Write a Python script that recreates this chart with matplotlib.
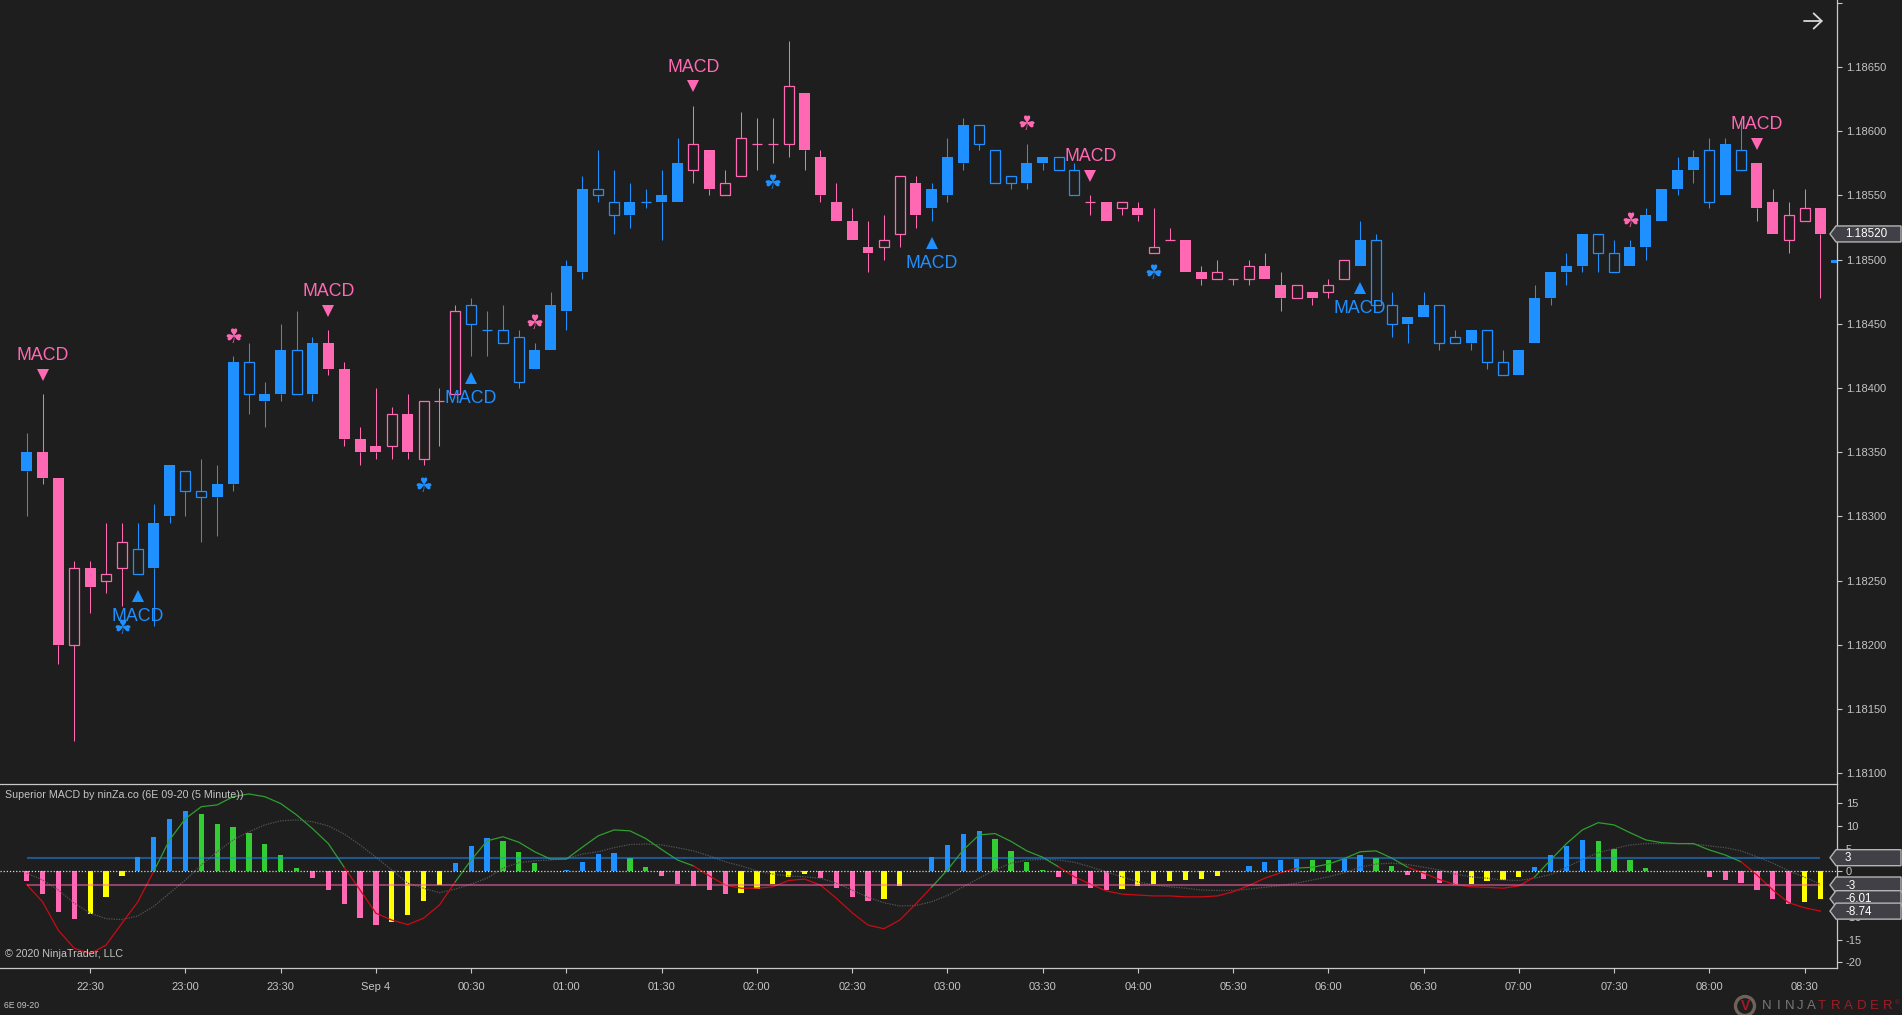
import numpy as np
import matplotlib
matplotlib.use('Agg')
import matplotlib.pyplot as plt
from matplotlib.patches import Polygon, Ellipse
from matplotlib.transforms import IdentityTransform

W, H = 1902, 1015
BG = '#1e1e1e'
BLUE = '#1e90ff'
PINK = '#ff69b4'
AXIS = '#c8c8c8'
TEXT = '#c4c4c4'

plt.rcParams['font.family'] = ['Liberation Sans', 'DejaVu Sans']

# candles, prices are 1.18000 + n * 0.00001
body_top = [350, 350, 330, 260, 260, 255, 280, 275, 295, 340,
            335, 320, 325, 420, 420, 395, 430, 430, 435, 435,
            415, 360, 355, 380, 380, 390, 390, 460, 465, 445,
            445, 440, 430, 465, 495, 555, 555, 545, 545, 545,
            550, 575, 590, 585, 560, 595, 590, 590, 635, 630,
            580, 545, 530, 510, 515, 565, 560, 555, 580, 605,
            605, 585, 565, 575, 580, 580, 570, 545, 545, 545,
            540, 510, 515, 515, 490, 490, 485, 495, 495, 480,
            480, 475, 480, 500, 515, 515, 465, 455, 465, 465,
            440, 445, 445, 420, 430, 470, 490, 495, 520, 520,
            505, 510, 535, 555, 570, 580, 585, 590, 585, 575,
            545, 535, 540, 540, 500]
body_bot = [335, 330, 200, 200, 245, 250, 260, 255, 260, 300,
            320, 315, 315, 325, 395, 390, 395, 395, 395, 415,
            360, 350, 350, 355, 350, 345, 390, 395, 450, 445,
            435, 405, 415, 430, 460, 490, 550, 535, 535, 545,
            545, 545, 570, 555, 550, 565, 590, 590, 590, 585,
            550, 530, 515, 505, 510, 520, 535, 540, 550, 575,
            590, 560, 560, 560, 575, 570, 550, 545, 530, 540,
            535, 505, 515, 490, 485, 485, 485, 485, 485, 470,
            470, 470, 475, 485, 495, 465, 450, 450, 455, 435,
            435, 435, 420, 410, 410, 435, 470, 490, 495, 505,
            490, 495, 510, 530, 555, 570, 545, 550, 570, 540,
            520, 515, 530, 520, 497]
wick_high = [365, 395, 330, 265, 265, 295, 295, 295, 310, 340,
             335, 345, 340, 425, 435, 405, 450, 460, 440, 445,
             420, 370, 400, 385, 395, 390, 400, 465, 470, 460,
             465, 445, 435, 475, 500, 565, 585, 570, 560, 555,
             570, 595, 620, 585, 570, 615, 610, 610, 670, 630,
             585, 560, 540, 530, 535, 565, 565, 560, 595, 610,
             605, 585, 565, 590, 580, 580, 575, 550, 545, 545,
             545, 540, 525, 515, 495, 500, 485, 500, 505, 490,
             480, 475, 485, 500, 530, 520, 475, 455, 475, 465,
             445, 445, 445, 430, 430, 480, 490, 505, 520, 520,
             515, 515, 540, 555, 580, 585, 595, 595, 610, 575,
             555, 545, 555, 540, 500]
wick_low = [300, 325, 185, 125, 225, 240, 230, 255, 215, 295,
            300, 280, 285, 320, 380, 370, 390, 395, 390, 410,
            355, 340, 345, 345, 345, 340, 355, 395, 425, 425,
            435, 400, 415, 430, 445, 485, 545, 520, 525, 540,
            515, 545, 560, 550, 550, 565, 570, 575, 580, 570,
            545, 530, 515, 490, 500, 510, 525, 530, 545, 570,
            585, 560, 555, 555, 570, 570, 550, 535, 530, 535,
            530, 505, 515, 490, 480, 485, 480, 480, 485, 460,
            470, 465, 470, 485, 495, 465, 440, 435, 455, 430,
            435, 430, 415, 410, 410, 435, 465, 480, 490, 490,
            490, 495, 500, 530, 550, 560, 540, 550, 570, 530,
            520, 505, 530, 470, 497]
candle_color = ('BPPPPPPBBB' 'BBBBBBBBBP' 'PPPPPPPPBB' 'BBBBBBBBBB' 'BBPPPPPPPP'
                'PPPPPPPBBB' 'BBBBBBBPPP' 'PPPPPPPPPP' 'PPPPBBBBBB' 'BBBBBBBBBB'
                'BBBBBBBBBP' 'PPPPB')
candle_fill = ('FFFHFHHHFF' 'HHFFHFFHFF' 'FFFHFHHHHH' 'HHFFFFHHFH' 'FFHFHHHHHF'
               'FFFFHHFFFF' 'HHHFFHHHFH' 'FHHFFHHHFF' 'HFHHFHHFFH' 'HFHHFFFFFH'
               'HFFFFFHFHF' 'FHHFF')

# x labels every 6 bars, first one at bar 4
time_labels = ['22:30', '23:00', '23:30', 'Sep 4', '00:30', '01:00', '01:30',
               '02:00', '02:30', '03:00', '03:30', '04:00', '05:30', '06:00',
               '06:30', '07:00', '07:30', '08:00', '08:30']
price_ticks = [1.181, 1.1815, 1.182, 1.1825, 1.183, 1.1835, 1.184, 1.1845,
               1.185, 1.1855, 1.186, 1.1865, 1.187]
macd_ticks = [15, 10, 5, 0, -5, -10, -15, -20]

# signals: bar, price
down_arrows = [(1, 410), (19, 460), (42, 635), (67, 565), (109, 590)]
down_labels = [(1, 425), (19, 475), (42, 650), (67, 580), (109, 605)]
up_arrows = [(7, 238), (28, 408), (57, 513), (84, 478)]
up_labels = [(7, 222), (28, 392), (57, 497), (84, 462)]
blue_clovers = [(6, 213), (25, 323), (47, 559), (71, 489)]
pink_clovers = [(13, 439), (32, 450), (63, 605), (101, 530)]

hist_vals = [-2.1, -5.0, -8.9, -10.5, -9.4, -5.6, -1.0, 3.1, 7.5, 11.5,
             13.2, 12.6, 10.4, 9.7, 8.4, 6.0, 3.6, 0.7, -1.5, -4.1,
             -7.2, -10.2, -11.8, -11.1, -9.6, -6.5, -3.0, 1.8, 5.6, 7.3,
             6.7, 4.2, 1.8, 0.1, 0.3, 2.0, 3.8, 4.0, 2.9, 1.0,
             -1.0, -2.8, -3.2, -4.1, -5.0, -4.8, -3.9, -2.8, -1.2, -0.6,
             -1.5, -3.7, -5.6, -6.5, -6.1, -3.2, 0.1, 3.1, 5.8, 8.2,
             8.8, 7.1, 4.5, 2.0, 0.3, -1.2, -2.8, -3.7, -4.1, -3.9,
             -3.2, -2.8, -2.1, -1.9, -1.7, -1.0, 0.0, 1.2, 2.0, 2.5,
             2.7, 2.5, 2.5, 2.7, 3.6, 2.9, 1.2, -0.8, -1.7, -2.6,
             -3.0, -2.8, -2.1, -1.9, -1.2, 1.0, 3.6, 5.6, 6.9, 6.7,
             4.9, 2.5, 0.7, 0.1, 0.0, 0.0, -1.2, -1.9, -2.6, -4.1,
             -6.1, -7.2, -6.7, -6.01]
hist_color = ('PPPPYYYBBB' 'BGGGGGGGPP' 'PPPYYYYBBB' 'GGGGBBBBGG' 'PPPPPYYYYY'
              'PPPPYYBBBB' 'BGGGGPPPPY' 'YYYYYYPBBB' 'BGGBBGGPPP' 'PYYYYBBBBG'
              'GGGGPPPPPP' 'PPYY')
macd_line = [-2.9, -6.7, -13.0, -16.9, -18.1, -16.2, -11.4, -6.7, 0.0, 6.9,
             11.6, 14.2, 14.6, 16.4, 17.0, 16.4, 14.9, 12.4, 9.4, 6.1,
             0.9, -4.1, -9.2, -10.7, -11.7, -10.3, -7.4, -2.3, 2.5, 6.7,
             7.6, 6.4, 4.3, 2.7, 2.7, 5.3, 7.8, 9.1, 8.9, 7.2,
             4.8, 2.5, 1.2, -1.0, -3.0, -3.7, -3.7, -3.4, -2.0, -1.7,
             -3.0, -5.9, -9.1, -11.8, -12.6, -10.7, -7.2, -3.5, 0.3, 4.7,
             8.0, 8.3, 6.6, 4.5, 3.1, 1.0, -1.2, -2.8, -4.3, -5.0,
             -5.2, -5.4, -5.4, -5.6, -5.6, -5.4, -4.5, -3.1, -1.5, -0.3,
             0.7, 0.9, 1.6, 2.8, 4.3, 4.5, 2.9, 0.9, -0.4, -1.8,
             -2.9, -3.4, -3.5, -3.7, -3.2, -1.2, 2.5, 6.1, 9.1, 10.7,
             10.2, 8.5, 6.9, 6.3, 6.1, 6.1, 4.7, 3.6, 2.1, -0.8,
             -4.1, -6.9, -8.0, -8.74]
signal_line = [-0.4, -1.9, -4.1, -7.0, -9.2, -10.4, -10.6, -9.8, -7.7, -4.8,
               -1.9, 1.4, 4.3, 6.9, 8.7, 10.2, 11.1, 11.3, 10.9, 10.0,
               8.2, 5.8, 3.1, 0.3, -2.6, -3.7, -4.7, -3.9, -2.8, -1.5,
               0.7, 1.9, 2.3, 2.5, 2.8, 3.8, 4.3, 5.2, 5.9, 6.0,
               5.8, 5.2, 4.5, 3.4, 2.1, 1.2, 0.1, -0.6, -1.0, -1.2,
               -1.5, -2.6, -4.1, -5.7, -6.9, -7.6, -7.5, -6.7, -5.3, -3.4,
               -1.5, 0.3, 1.8, 2.5, 2.6, 2.5, 2.0, 1.0, -0.1, -1.2,
               -2.3, -3.0, -3.4, -3.7, -4.1, -4.2, -4.2, -3.9, -3.5, -3.1,
               -2.6, -1.9, -1.2, -0.3, 0.9, 1.6, 1.8, 1.5, 0.9, 0.3,
               -0.6, -1.2, -1.5, -1.9, -2.0, -1.5, -0.7, 0.9, 2.6, 4.1,
               5.0, 5.8, 6.1, 6.1, 6.1, 6.0, 5.6, 5.2, 4.5, 3.2,
               1.8, 0.1, -1.3, -2.8]
# where the macd line changes colour
line_spans = [(0, 8, 'r'), (8, 20, 'g'), (20, 27, 'r'), (27, 42, 'g'),
              (42, 57, 'r'), (57, 65, 'g'), (65, 80, 'r'), (80, 87, 'g'),
              (87, 95, 'r'), (95, 108, 'g'), (108, 113, 'r')]
upper_level = 3
lower_level = -3
macd_tags = [(3, '3'), (-3, '-3'), (-6.01, '-6.01'), (-8.74, '-8.74')]
last_price = 520


def px(n):
    # 1.18000 + n points
    return 1.18 + np.asarray(n) * 1e-5


fig = plt.figure(figsize=(W / 100, H / 100), dpi=100, facecolor=BG)
ax = fig.add_axes([0, 1 - 783.5 / H, 1836.5 / W, 783.5 / H], facecolor=BG)
ax2 = fig.add_axes([0, 1 - 968.3 / H, 1836.5 / W, (968.3 - 783.5) / H], facecolor=BG)

xlim = (-26.7 / 15.874, (1836.5 - 26.7) / 15.874)

# price panel
colors = {'B': BLUE, 'P': PINK}
bars = np.arange(len(body_top))
for i in bars:
    c = colors[candle_color[i]]
    ax.vlines(i, px(body_top[i]), px(wick_high[i]), color=c, lw=0.75)
    ax.vlines(i, px(wick_low[i]), px(body_bot[i]), color=c, lw=0.75)
    h = px(body_top[i]) - px(body_bot[i])
    if candle_fill[i] == 'F':
        ax.bar(i, h, bottom=px(body_bot[i]), width=0.69, color=c, lw=0)
    else:
        ax.bar(i, h, bottom=px(body_bot[i]), width=0.63, facecolor=BG,
               edgecolor=c, lw=0.9)

for (i, p) in down_arrows:
    ax.plot(i, px(p), marker='v', color=PINK, ms=9, mew=0)
for (i, p) in up_arrows:
    ax.plot(i, px(p), marker='^', color=BLUE, ms=9, mew=0)
for (i, p) in down_labels:
    ax.text(i, px(p), 'MACD', color=PINK, fontsize=12.8, ha='center', va='center')
for (i, p) in up_labels:
    ax.text(i, px(p), 'MACD', color=BLUE, fontsize=12.8, ha='center', va='center')
for (i, p) in blue_clovers:
    ax.text(i, px(p), '\u2618', color=BLUE, fontsize=14.5, ha='center', va='center',
            family='DejaVu Sans')
for (i, p) in pink_clovers:
    ax.text(i, px(p), '\u2618', color=PINK, fontsize=14.5, ha='center', va='center',
            family='DejaVu Sans')

ax.set_xlim(xlim)
ax.set_ylim(1.18092, 1.187022)
ax.set_xticks([])
ax.set_yticks(price_ticks)
ax.set_yticklabels(['%.5f' % t for t in price_ticks[:-1]] + [''])
ax.yaxis.tick_right()
ax.tick_params(axis='y', colors=AXIS, labelcolor=TEXT, length=3.6, width=0.8, pad=3,
               labelsize=8)

# macd panel
hist_colors = {'P': PINK, 'Y': '#ffff00', 'B': BLUE, 'G': '#32cd32'}
x2 = np.arange(len(hist_vals))
ax2.bar(x2, hist_vals, width=0.33, color=[hist_colors[c] for c in hist_color], lw=0)

ax2.plot(x2, signal_line, color='#555555', lw=0.9, ls=(0, (1, 1)))
line_colors = {'r': '#cc0a14', 'g': '#2f9e2f'}
for (a, b, c) in line_spans:
    ax2.plot(x2[a:b + 1], macd_line[a:b + 1], color=line_colors[c], lw=0.9)

ax2.hlines(upper_level, x2[0], x2[-1], color=BLUE, alpha=0.5, lw=1.5)
ax2.hlines(lower_level, x2[0], x2[-1], color=PINK, alpha=0.5, lw=1.5)
ax2.axhline(0, color='#d8d8d8', lw=0.9, ls=(0, (1, 1.5)))

ax2.set_xlim(xlim)
ax2.set_ylim(-21.3, 19.3)
ax2.set_xticks(4 + 6 * np.arange(len(time_labels)))
ax2.set_xticklabels(time_labels)
ax2.set_yticks(macd_ticks)
ax2.set_yticklabels([str(t) for t in macd_ticks])
ax2.yaxis.tick_right()
ax2.tick_params(axis='y', colors=AXIS, labelcolor=TEXT, length=3.6, width=0.8, pad=3,
                labelsize=8)
ax2.tick_params(axis='x', colors=AXIS, labelcolor=TEXT, length=3.6, width=0.8, pad=6,
                labelsize=8)

for a in (ax, ax2):
    for s in a.spines.values():
        s.set_color(AXIS)
        s.set_linewidth(0.9)
    a.spines['left'].set_visible(False)
ax.spines['top'].set_visible(False)
ax.spines['bottom'].set_visible(False)


def tag(a, y, text):
    # value box on the right axis
    yp = a.transData.transform((0, y))[1]
    pts = [(1830, yp), (1836, yp + 8), (1901, yp + 8), (1901, yp - 8), (1836, yp - 8)]
    a.add_patch(Polygon(pts, closed=True, facecolor='#404046', edgecolor='#b4b4b4', lw=1,
                        transform=IdentityTransform(), clip_on=False, zorder=5))
    a.text(1845, yp - 0.5, text, color='white', fontsize=8.4, va='center', ha='left',
           transform=IdentityTransform(), clip_on=False, zorder=6)


tag(ax, px(last_price), '%.5f' % px(last_price))
for (v, s) in macd_tags:
    tag(ax2, v, s)

# loose text and logo
fig.text(5 / W, 1 - 795 / H, 'Superior MACD by ninZa.co (6E 09-20 (5 Minute))',
         color=TEXT, fontsize=7.65, va='center')
fig.text(5 / W, 1 - 954 / H, '\u00a9 2020 NinjaTrader, LLC', color=TEXT, fontsize=7.65, va='center')
fig.text(4 / W, 1 - 1005 / H, '6E 09-20', color=TEXT, fontsize=6.2, va='center')

ax.annotate('', xy=(1823, H - 21), xytext=(1804, H - 21), xycoords='figure pixels',
            textcoords='figure pixels',
            arrowprops=dict(arrowstyle='->,head_length=0.58,head_width=0.55', color='#d8d8d8',
                            lw=1.3, mutation_scale=10, shrinkA=0, shrinkB=0))

fig.add_artist(Ellipse((1745, H - 1006), 19, 19, facecolor='none', edgecolor='#6e6259', lw=2.4,
                       transform=IdentityTransform()))
fig.text(1746 / W, 1 - 1006 / H, 'V', color='#a01c24', fontsize=10, fontweight='bold',
         ha='center', va='center')
for k, ch in enumerate('NINJA'):
    fig.text((1767 + k * 11.2) / W, 1 - 1006 / H, ch, color='#767676', fontsize=9.5,
             ha='center', va='center')
for k, ch in enumerate('TRADER'):
    fig.text((1822 + k * 13.2) / W, 1 - 1006 / H, ch, color='#a01c24', fontsize=9.5,
             ha='center', va='center')
fig.text(1897 / W, 1 - 1003 / H, '\u00ae', color='#a01c24', fontsize=4.5, ha='center', va='center')

fig.savefig('out.png', dpi=100, facecolor=BG)
